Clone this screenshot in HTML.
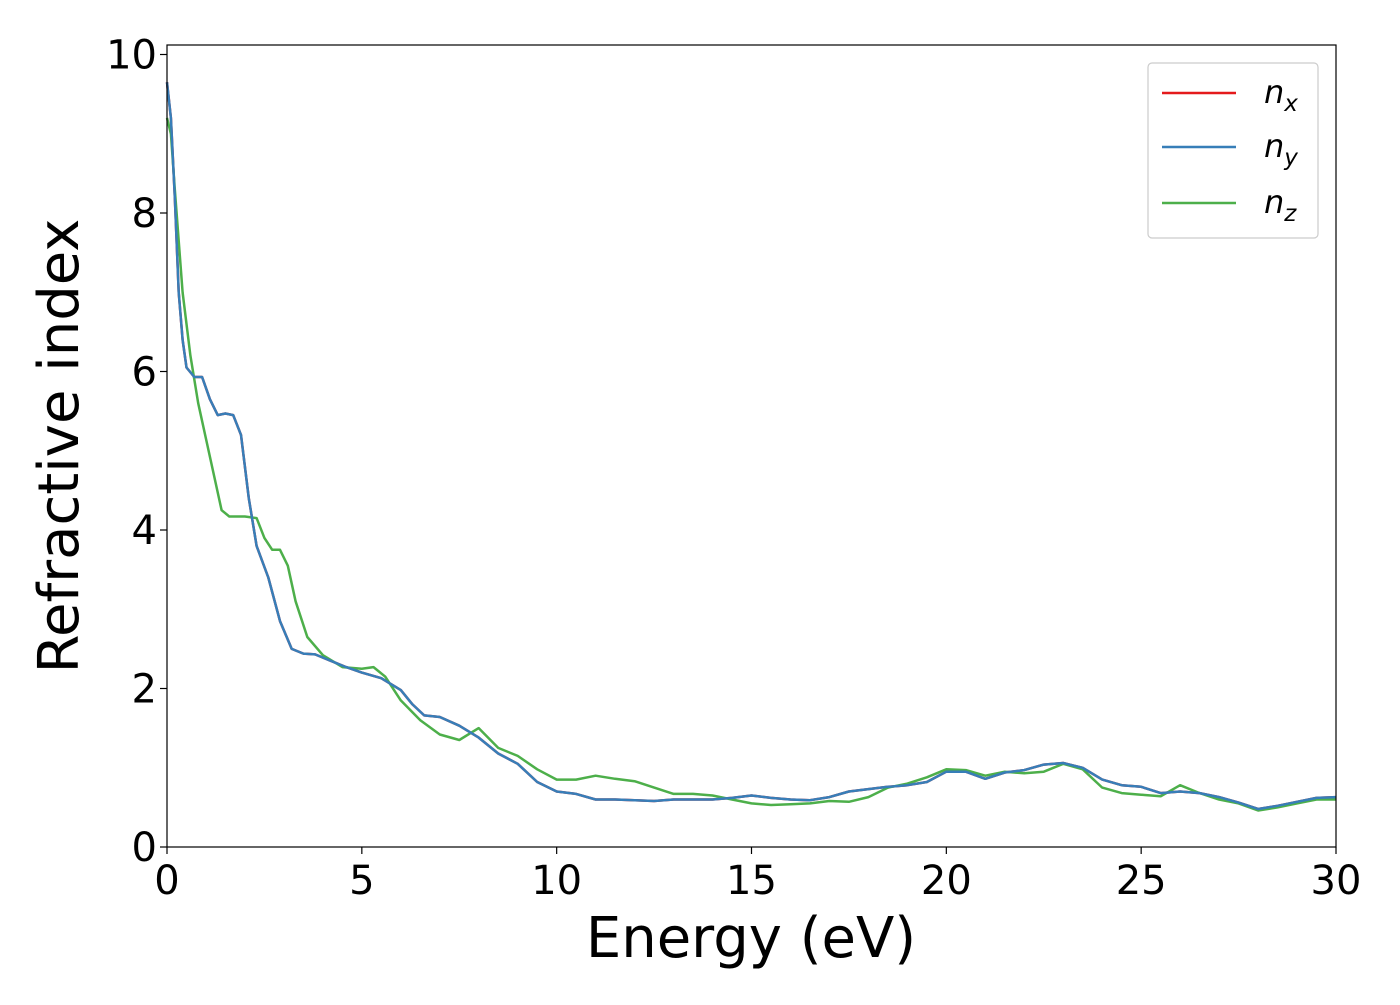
<!DOCTYPE html>
<html><head><meta charset="utf-8"><style>
body{margin:0;background:#fff}
svg{font-family:"DejaVu Sans","Liberation Sans",sans-serif}
</style></head><body>
<svg id="chart" width="1400" height="1000">
<g id="plot"></g>
<g id="axes"></g>
</svg>
<script>
const energyX=[0,0.1,0.2,0.3,0.4,0.5,0.7,0.9,1.1,1.3,1.5,1.7,1.9,2.1,2.3,2.6,2.9,3.2,3.5,3.8,4.2,4.6,5,5.5,6,6.3,6.6,7,7.5,8,8.5,9,9.5,10,10.5,11,11.5,12,12.5,13,13.5,14,14.5,15,15.5,16,16.5,17,17.5,18,18.5,19,19.5,20,20.5,21,21.5,22,22.5,23,23.5,24,24.5,25,25.5,26,26.5,27,27.5,28,28.5,29,29.5,30];
const nxValues=[9.65,9.2,8.2,7.0,6.4,6.05,5.93,5.93,5.65,5.45,5.47,5.45,5.2,4.4,3.8,3.4,2.85,2.5,2.44,2.43,2.35,2.27,2.2,2.13,1.98,1.8,1.66,1.64,1.53,1.38,1.18,1.05,0.82,0.7,0.67,0.6,0.6,0.59,0.58,0.6,0.6,0.6,0.62,0.65,0.62,0.6,0.59,0.63,0.7,0.73,0.76,0.78,0.82,0.95,0.95,0.86,0.94,0.97,1.04,1.06,1.0,0.85,0.78,0.76,0.68,0.7,0.68,0.63,0.56,0.48,0.52,0.57,0.62,0.63];
const nyValues=nxValues.slice();
const energyZ=[0,0.1,0.2,0.4,0.6,0.8,1.0,1.2,1.4,1.6,2.0,2.3,2.5,2.7,2.9,3.1,3.3,3.6,4,4.5,5,5.3,5.6,6,6.5,7,7.5,8,8.5,9,9.5,10,10.5,11,11.5,12,12.5,13,13.5,14,14.5,15,15.5,16,16.5,17,17.5,18,18.5,19,19.5,20,20.5,21,21.5,22,22.5,23,23.5,24,24.5,25,25.5,26,26.5,27,27.5,28,28.5,29,29.5,30];
const nzValues=[9.2,9.0,8.3,7.0,6.2,5.6,5.15,4.7,4.25,4.17,4.17,4.15,3.9,3.75,3.75,3.55,3.1,2.65,2.42,2.27,2.25,2.27,2.15,1.85,1.6,1.42,1.35,1.5,1.25,1.15,0.98,0.85,0.85,0.9,0.86,0.83,0.75,0.67,0.67,0.65,0.6,0.55,0.53,0.54,0.55,0.58,0.57,0.63,0.75,0.8,0.88,0.98,0.97,0.9,0.95,0.93,0.95,1.05,0.98,0.75,0.68,0.66,0.64,0.78,0.68,0.6,0.55,0.46,0.5,0.55,0.6,0.6];
const xTicks=[0,5,10,15,20,25,30];
const yTicks=[0,2,4,6,8,10];

const NS="http://www.w3.org/2000/svg";
const L=167,R=1336,T=45,B=847;
const sx=v=>L+(R-L)*v/30;
const sy=v=>B-(B-54.5)*v/10;
const plot=document.getElementById('plot'),axes=document.getElementById('axes');
function mk(tag,attrs,parent){const e=document.createElementNS(NS,tag);for(const k in attrs)e.setAttribute(k,attrs[k]);parent.appendChild(e);return e;}
function line(xs,ys,color,name){
  const d=xs.map((x,i)=>(i?'L':'M')+sx(x).toFixed(1)+','+sy(ys[i]).toFixed(1)).join('');
  const p=mk('path',{d:d,fill:'none',stroke:color,'stroke-width':2.5,'stroke-linejoin':'round'},plot);
  
  
}
line(energyX,nxValues,'#e41a1c','series-nx');
line(energyZ,nzValues,'#4daf4a','series-nz');
line(energyX,nyValues,'#377eb8','series-ny');
const frame=mk('rect',{x:L,y:T,width:R-L,height:B-T,fill:'none',stroke:'#000','stroke-width':1.2},axes);


xTicks.forEach(v=>{
  mk('line',{x1:sx(v),x2:sx(v),y1:B,y2:B+7,stroke:'#000','stroke-width':1.2},axes);
  const t=mk('text',{x:sx(v),y:B+47,'font-size':40,'text-anchor':'middle'},axes);t.textContent=v;
  
  
});
yTicks.forEach(v=>{
  mk('line',{x1:L-7,x2:L,y1:sy(v),y2:sy(v),stroke:'#000','stroke-width':1.2},axes);
  const t=mk('text',{x:L-10,y:sy(v)+14,'font-size':40,'text-anchor':'end'},axes);t.textContent=v;
  
  
});
</script>
<svg style="position:absolute;left:0;top:0" width="1400" height="1000">
<text x="751" y="957" font-size="56" text-anchor="middle" font-family="DejaVu Sans,Liberation Sans,sans-serif">Energy (eV)</text>
<text transform="translate(78,446) rotate(-90)" font-size="56" text-anchor="middle" font-family="DejaVu Sans,Liberation Sans,sans-serif">Refractive index</text>
<g font-family="DejaVu Sans,Liberation Sans,sans-serif" font-size="32" font-style="italic">
<rect x="1148" y="63" width="170" height="175" rx="4" fill="#fff" stroke="#ccc" stroke-width="1.2"/>
<line x1="1162" x2="1236" y1="93" y2="93" stroke="#e41a1c" stroke-width="2.5"/>
<text x="1264" y="103">n<tspan font-size="23" dy="8">x</tspan></text>
<line x1="1162" x2="1236" y1="147" y2="147" stroke="#377eb8" stroke-width="2.5"/>
<text x="1264" y="157">n<tspan font-size="23" dy="8">y</tspan></text>
<line x1="1162" x2="1236" y1="203" y2="203" stroke="#4daf4a" stroke-width="2.5"/>
<text x="1264" y="213">n<tspan font-size="23" dy="8">z</tspan></text>
</g>
</svg>
</body></html>
